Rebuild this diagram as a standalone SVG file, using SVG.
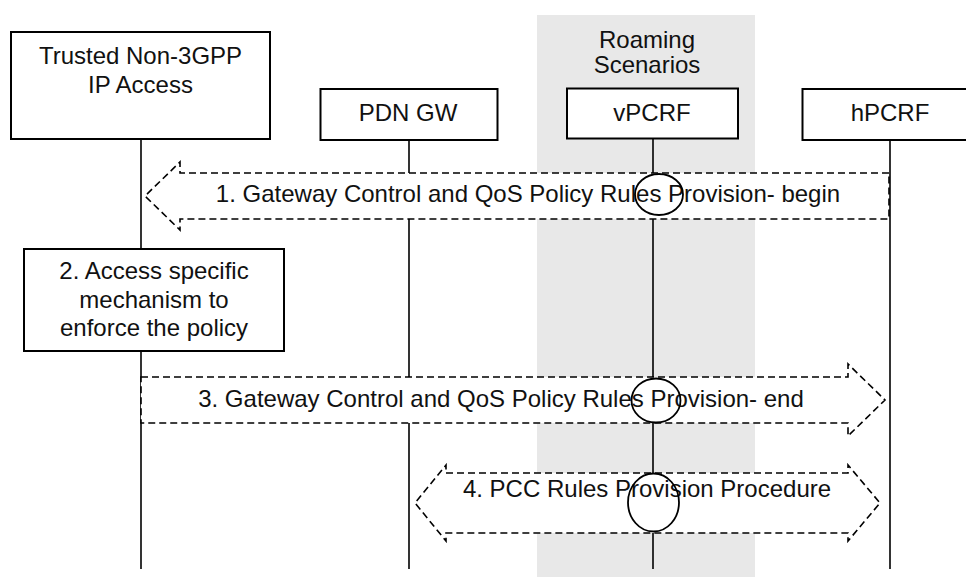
<svg xmlns="http://www.w3.org/2000/svg" width="966" height="577" viewBox="0 0 966 577">
<style>
.box{fill:#fff;stroke:#000;stroke-width:2}
.life{stroke:#000;stroke-width:1.6;fill:none}
.t{font-family:"Liberation Sans",Arial,sans-serif;font-size:24px;fill:#111;text-anchor:middle}
.dash{fill:#fff;stroke:#000;stroke-width:1.6;stroke-dasharray:7 4}
.ell{fill:none;stroke:#000;stroke-width:1.8}
</style>
<rect x="537" y="15" width="218" height="562" fill="#e8e8e8"/>
<text class="t" x="647" y="48">Roaming</text>
<text class="t" x="647" y="73">Scenarios</text>
<g id="lifelines">
<line class="life" x1="141" y1="139" x2="141" y2="569"/>
<line class="life" x1="409" y1="140" x2="409" y2="569"/>
<line class="life" x1="653" y1="138" x2="653" y2="569"/>
<line class="life" x1="890" y1="140" x2="890" y2="569"/>
</g>
<g id="n-trusted">
<rect class="box" x="11" y="32" width="259" height="107"/>
<text class="t" x="140.5" y="64">Trusted Non-3GPP</text>
<text class="t" x="140.5" y="93">IP Access</text>
</g>
<g id="n-pdngw">
<rect class="box" x="320.5" y="89" width="177" height="51"/>
<text class="t" x="408" y="121">PDN GW</text>
</g>
<g id="n-vpcrf">
<rect class="box" x="567" y="88.5" width="171" height="50"/>
<text class="t" x="652" y="121">vPCRF</text>
</g>
<g id="n-hpcrf">
<rect class="box" x="802.5" y="89" width="170" height="51"/>
<text class="t" x="890" y="121">hPCRF</text>
</g>
<g id="n-step2">
<rect class="box" x="24" y="249" width="260" height="102"/>
<text class="t" x="154" y="279">2. Access specific</text>
<text class="t" x="154" y="307.5">mechanism to</text>
<text class="t" x="154" y="336">enforce the policy</text>
</g>
<g id="connectors">
<g id="c1">
<polygon class="dash" points="889,173 180,173 180,162 145,196 180,230 180,219 889,219"/>
<text class="t" x="528" y="202">1. Gateway Control and QoS Policy Rules Provision- begin</text>
<ellipse class="ell" cx="659" cy="194.5" rx="24" ry="20.5"/>
</g>
<g id="c3">
<polygon class="dash" points="141,377 848,377 848,364 885,400 848,436 848,423 141,423"/>
<text class="t" x="501" y="407">3. Gateway Control and QoS Policy Rules Provision- end</text>
<ellipse class="ell" cx="656" cy="400.5" rx="24.5" ry="22"/>
</g>
<g id="c4">
<polygon class="dash" points="446,473 848,473 848,465 880,503 848,541 848,533 446,533 446,541 415,503 446,465"/>
<text class="t" x="647" y="497">4. PCC Rules Provision Procedure</text>
<ellipse class="ell" cx="653.5" cy="502.5" rx="25.5" ry="29"/>
</g>
</g>
</svg>
